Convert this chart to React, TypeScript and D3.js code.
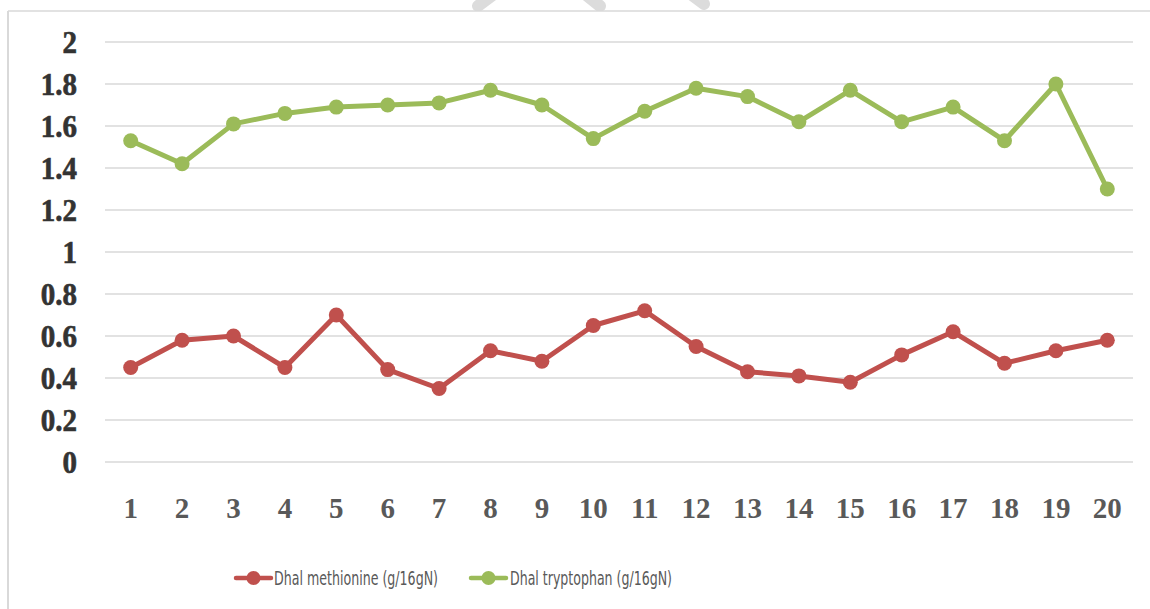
import React from 'react';
import * as d3 from 'd3';

const categories = ['1', '2', '3', '4', '5', '6', '7', '8', '9', '10', '11', '12', '13', '14', '15', '16', '17', '18', '19', '20'];
const methionine = [0.45, 0.58, 0.60, 0.45, 0.70, 0.44, 0.35, 0.53, 0.48, 0.65, 0.72, 0.55, 0.43, 0.41, 0.38, 0.51, 0.62, 0.47, 0.53, 0.58];
const tryptophan = [1.53, 1.42, 1.61, 1.66, 1.69, 1.70, 1.71, 1.77, 1.70, 1.54, 1.67, 1.78, 1.74, 1.62, 1.77, 1.62, 1.69, 1.53, 1.80, 1.30];
const yTicks = [0, 0.2, 0.4, 0.6, 0.8, 1, 1.2, 1.4, 1.6, 1.8, 2];
const seriesNames = ['Dhal methionine (g/16gN)', 'Dhal tryptophan (g/16gN)'];

const W = 1150;
const H = 609;

export default function App() {
  const x = d3.scaleBand().domain(categories).range([105, 1133]);
  const y = d3.scaleLinear().domain([0, 2]).range([462, 42]);
  const cx = (c: string) => (x(c) as number) + x.bandwidth() / 2;

  const line = d3.line<number>()
    .x((_, i) => cx(categories[i]))
    .y(d => y(d));

  const series = [
    { name: seriesNames[0], values: methionine, color: '#c0504d' },
    { name: seriesNames[1], values: tryptophan, color: '#9bbb59' },
  ];

  // legend slots (the source image is stretched vertically, hence the scale on the text)
  const legend = [
    { x0: 236, x1: 271, tx: 274, tw: 164 },
    { x0: 471, x1: 506, tx: 510, tw: 162 },
  ];
  const legendY = 578;

  return (
    <svg width={W} height={H} style={{ position: 'absolute', left: 0, top: 0, background: '#fff' }}>
      {/* faint watermark fragments above the frame */}
      <g stroke="#dcdcdc" strokeWidth={12} strokeLinecap="round">
        <line x1={510} y1={-18} x2={478} y2={6} />
        <line x1={570} y1={-18} x2={600} y2={6} />
        <line x1={680} y1={-14} x2={704} y2={4} />
      </g>
      <rect x={0} y={11} width={W} height={4} fill="#fff" />
      {/* frame */}
      <line x1={8} y1={11} x2={W} y2={11} stroke="#d9d9d9" strokeWidth={1.5} />
      <line x1={8} y1={11} x2={8} y2={H} stroke="#d9d9d9" strokeWidth={2} />

      {/* gridlines */}
      {yTicks.map(t => (
        <line key={t} x1={105} x2={1133} y1={y(t)} y2={y(t)} stroke="#d9d9d9" strokeWidth={1.5} />
      ))}

      {/* y labels */}
      {yTicks.map(t => (
        <text key={t} transform={`translate(77,${y(t)}) scale(1,1.1)`} dy="0.36em" textAnchor="end"
          fontFamily="'Liberation Serif', 'Times New Roman', serif" fontWeight="bold" fontSize={29}
          fill="#333" stroke="#333" strokeWidth={0.6}>
          {String(t)}
        </text>
      ))}

      {/* x labels */}
      {categories.map(c => (
        <text key={c} transform={`translate(${cx(c)},518) scale(1,1.05)`} textAnchor="middle"
          fontFamily="'Liberation Serif', 'Times New Roman', serif" fontWeight="bold" fontSize={29}
          fill="#595959">
          {c}
        </text>
      ))}

      {/* series */}
      {series.map(s => (
        <g key={s.name}>
          <path d={line(s.values) || ''} fill="none" stroke={s.color} strokeWidth={5} strokeLinejoin="round" />
          {s.values.map((v, i) => (
            <circle key={i} cx={cx(categories[i])} cy={y(v)} r={7.5} fill={s.color} />
          ))}
        </g>
      ))}

      {/* legend */}
      {series.map((s, i) => {
        const l = legend[i];
        return (
          <g key={s.name}>
            <line x1={l.x0} x2={l.x1} y1={legendY} y2={legendY} stroke={s.color} strokeWidth={4.5} strokeLinecap="round" />
            <circle cx={(l.x0 + l.x1) / 2} cy={legendY} r={7} fill={s.color} />
            <text x={l.tx} y={legendY} dy="0.36em"
              fontFamily="'DejaVu Sans Condensed', 'DejaVu Sans', sans-serif" fontStretch="condensed" fontSize={19}
              fill="#595959" textLength={l.tw} lengthAdjust="spacingAndGlyphs">
              {s.name}
            </text>
          </g>
        );
      })}
    </svg>
  );
}
